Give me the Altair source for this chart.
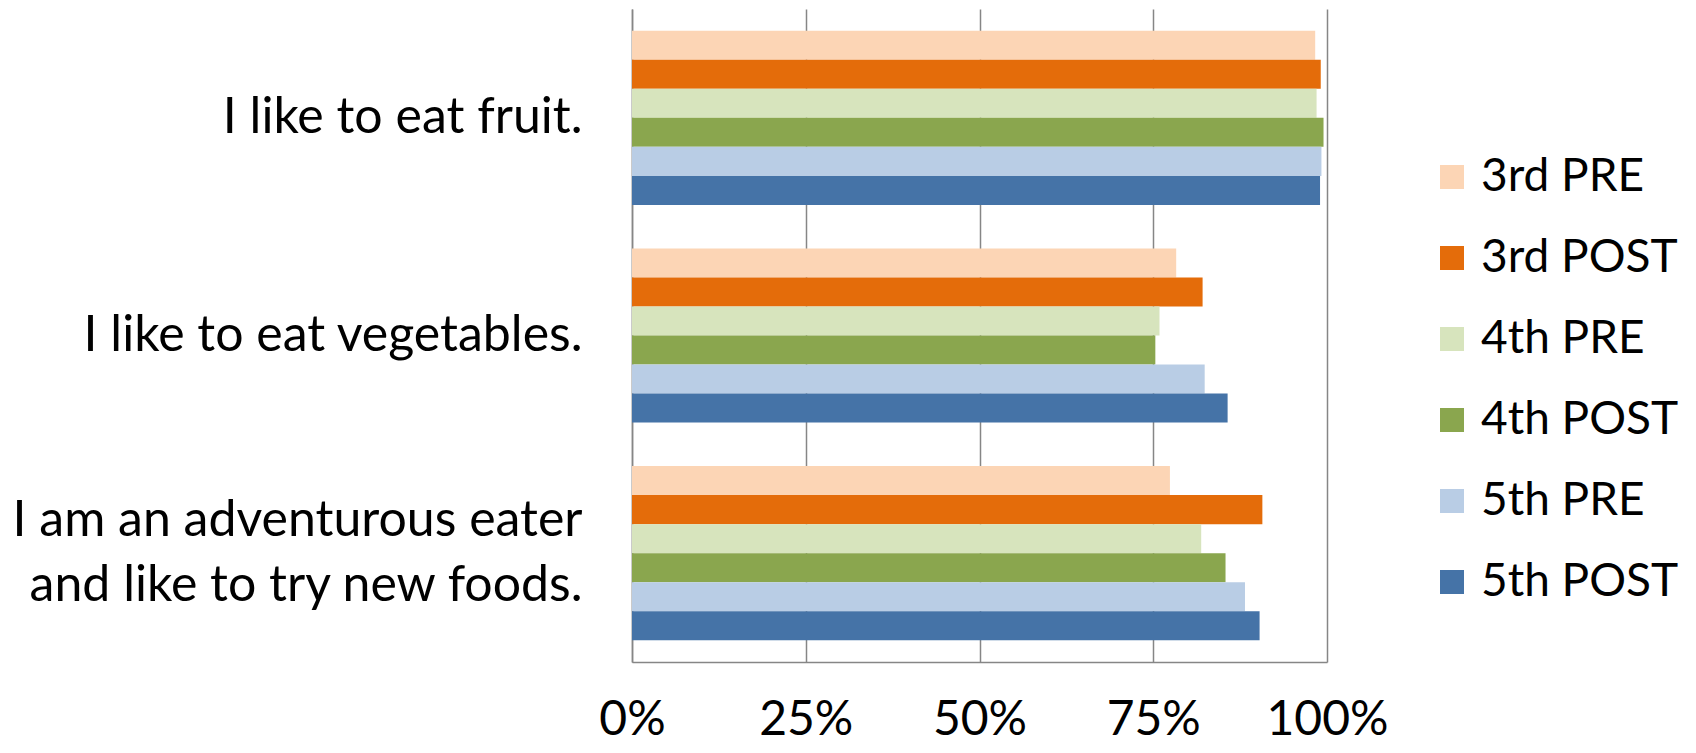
import altair as alt
import pandas as pd

categories = ["I like to eat fruit.", "I like to eat vegetables.", "I am an adventurous eater and like to try new foods."]
category_lines = {
    "I like to eat fruit.": ["I like to eat fruit."],
    "I like to eat vegetables.": ["I like to eat vegetables."],
    "I am an adventurous eater and like to try new foods.": ["I am an adventurous eater", "and like to try new foods."],
}
series = ["3rd PRE", "3rd POST", "4th PRE", "4th POST", "5th PRE", "5th POST"]
colors = ["#FCD5B5", "#E46C0A", "#D7E4BD", "#8AA64E", "#B9CDE5", "#4573A7"]

fruit = [0.983, 0.991, 0.985, 0.995, 0.992, 0.990]
vegetables = [0.783, 0.821, 0.759, 0.753, 0.824, 0.857]
adventurous = [0.774, 0.907, 0.819, 0.854, 0.882, 0.903]

values = [fruit, vegetables, adventurous]
rows = []
for c, vals in zip(categories, values):
    for s, v in zip(series, vals):
        rows.append({"category": c, "series": s, "value": v})
df = pd.DataFrame(rows)

expr_parts = []
for c, lines in category_lines.items():
    arr = "[" + ",".join("'" + l + "'" for l in lines) + "]"
    expr_parts.append(f"datum.value == '{c}' ? {arr}")
label_expr = " : ".join(expr_parts) + " : datum.value"

multi = [c for c, lines in category_lines.items() if len(lines) > 1]
multi_test = " || ".join(f"datum.value == '{c}'" for c in multi)

FONT = "Lato"
GRID = "#868686"
LINE_H = 65

chart = alt.Chart(df).mark_bar().encode(
    x=alt.X("value:Q", scale=alt.Scale(domain=[0, 1], nice=False),
            axis=alt.Axis(values=[0, 0.25, 0.5, 0.75, 1], format=".0%", title=None,
                          grid=True, gridColor=GRID, gridWidth=1.5, domainColor=GRID,
                          domainWidth=1.5, ticks=False, labelFontSize=48, labelFont=FONT,
                          labelColor="#000000", labelPadding=34, labelFlush=False)),
    y=alt.Y("category:N", sort=categories,
            scale=alt.Scale(paddingInner=0.2, paddingOuter=0.1),
            axis=alt.Axis(title=None, labelExpr=label_expr, labelFontSize=50, labelFont=FONT,
                          labelColor="#000000", labelPadding=50, ticks=False, domainColor=GRID,
                          domainWidth=1.5, labelLineHeight=LINE_H, labelLimit=700,
                          labelOffset={"condition": {"test": multi_test, "value": -LINE_H / 2}, "value": 0})),
    yOffset=alt.YOffset("series:N", sort=series, scale=alt.Scale(paddingInner=0, paddingOuter=0)),
    color=alt.Color("series:N", sort=series, scale=alt.Scale(domain=series, range=colors),
                    legend=alt.Legend(title=None, orient="none", legendX=797, legendY=145,
                                      symbolType="square", symbolSize=576, symbolStrokeWidth=0,
                                      labelFontSize=46, labelFont=FONT, labelColor="#000000",
                                      rowPadding=35, labelOffset=6, labelLimit=400)),
).properties(
    width=695, height=653,
    autosize=alt.AutoSizeParams(type="none"),
    padding={"left": 624, "top": 1, "right": 360, "bottom": 82},
).configure_view(stroke=None)

chart.save("out.html", embed_options={"renderer": "svg", "actions": False})
